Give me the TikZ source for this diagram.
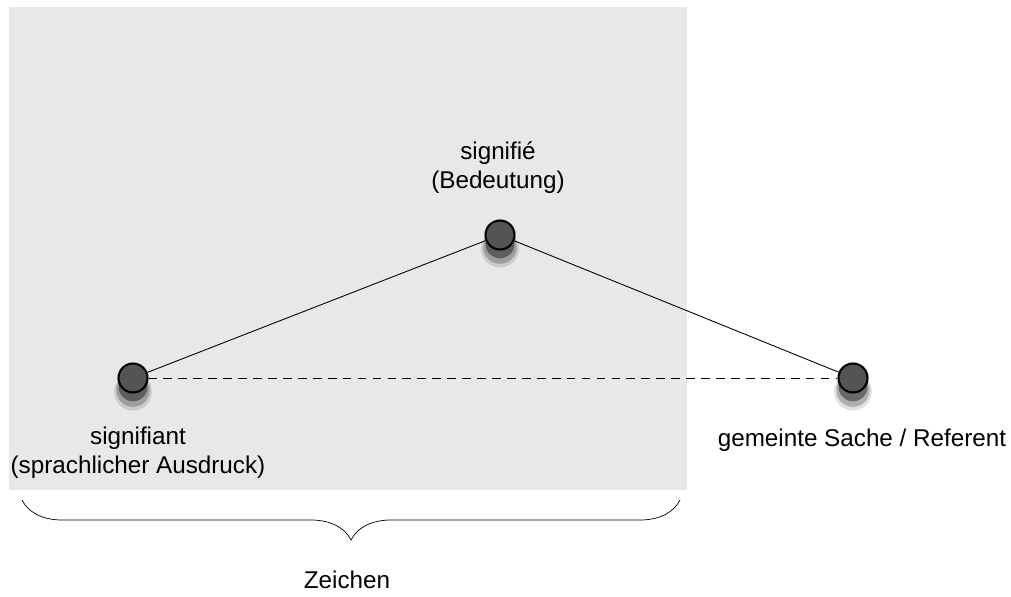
\documentclass[tikz,border=0pt]{standalone}
\usepackage{fontspec}
\setmainfont{Liberation Sans}
\usetikzlibrary{shadows,decorations.pathreplacing}

\begin{document}
\begin{tikzpicture}[x=0.02cm,y=-0.02cm]
	\tikzstyle{every node}=[font=\fontsize{13.8}{16.5}\selectfont,align=center]
	\tikzstyle{punkt}=[circle,draw=black,line width=1.2pt,fill=black!67,
		minimum size=0.58cm,inner sep=0pt,
		drop shadow={shadow xshift=0pt,shadow yshift=-6pt,shadow scale=1.3,opacity=0.12,fill=black},
		drop shadow={shadow xshift=0pt,shadow yshift=-6pt,shadow scale=1.15,opacity=0.22,fill=black},
		drop shadow={shadow xshift=0pt,shadow yshift=-5pt,shadow scale=1.0,opacity=0.4,fill=black}]
	\tikzstyle{linie}=[line width=0.5pt]
	\useasboundingbox (0,0) rectangle (1011,596);
	% Zeichen-Bereich
	\fill[black!9] (9,7) rectangle (687,490);
	\node[punkt] (sa) at (133,378) {};
	\node[punkt] (se) at (500,235) {};
	\node[punkt] (ref) at (853,378) {};
	\draw[linie] (sa) -- (se) -- (ref);
	\draw[linie,dashed,dash pattern=on 5pt off 3.5pt] (sa) -- (ref);
	\node (tse) at (498,168) {signifié\\(Bedeutung)};
	\node (tsa) at (138,453) {signifiant\\(sprachlicher Ausdruck)};
	\node (tref) at (862,440) {gemeinte Sache / Referent};
	% Klammer
	\coordinate (kl) at (22,500);
	\coordinate (kr) at (680,500);
	\draw[decorate,decoration={brace,mirror,amplitude=0.8cm}] (kl) -- (kr);
	\node (zeichen) at (347,580) {Zeichen};
\end{tikzpicture}
\end{document}
